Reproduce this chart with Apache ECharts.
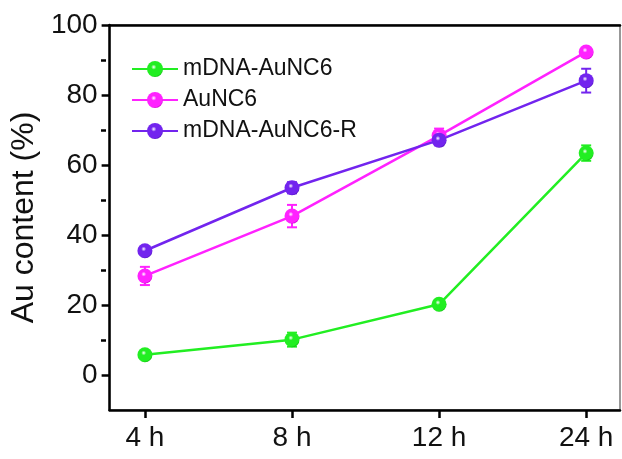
<!DOCTYPE html>
<html>
<head>
<meta charset="utf-8">
<script src="https://cdn.jsdelivr.net/npm/echarts@6/dist/echarts.min.js"></script>
<style>html,body{margin:0;padding:0;background:#fff}#c{width:622px;height:459px}</style>
</head>
<body>
<div id="c"></div>
<script>
var categories = ['4 h', '8 h', '12 h', '24 h'];
var seriesNames = ['mDNA-AuNC6', 'AuNC6', 'mDNA-AuNC6-R'];
var greenValues = [5.8, 10.1, 20.2, 63.4];
var greenErrors = [1.0, 2.0, 1.2, 2.2];
var magentaValues = [28.3, 45.4, 68.4, 92.3];
var magentaErrors = [2.6, 3.2, 2.0, 1.0];
var purpleValues = [35.5, 53.5, 67.1, 84.1];
var purpleErrors = [1.0, 1.6, 1.5, 3.4];
var yMajorTicks = [0, 20, 40, 60, 80, 100];
var yMinorTicks = [10, 30, 50, 70, 90];

var colors = ['#22ee22', '#ff22ff', '#7224ee'];
var dark = ['#0bb80b', '#c800c8', '#4a10b8'];
var values = [greenValues, magentaValues, purpleValues];
var errors = [greenErrors, magentaErrors, purpleErrors];

function sphere(i) {
  return {
    type: 'radial', x: 0.42, y: 0.38, r: 0.65,
    colorStops: [
      {offset: 0, color: '#ffffff'},
      {offset: 0.25, color: colors[i]},
      {offset: 0.85, color: colors[i]},
      {offset: 1, color: dark[i]}
    ]
  };
}

var series = [];
values.forEach(function (vals, i) {
  series.push({
    name: seriesNames[i] + ' err',
    type: 'custom',
    xAxisIndex: 0, yAxisIndex: 0,
    z: 2,
    data: vals.map(function (v, k) { return [k, v - errors[i][k], v + errors[i][k]]; }),
    renderItem: function (params, api) {
      var x = api.value(0);
      var lo = api.coord([x, api.value(1)]);
      var hi = api.coord([x, api.value(2)]);
      var st = {stroke: colors[i], lineWidth: 2};
      var hw = 5;
      return {
        type: 'group',
        children: [
          {type: 'line', shape: {x1: lo[0], y1: lo[1], x2: hi[0], y2: hi[1]}, style: st},
          {type: 'line', shape: {x1: lo[0] - hw, y1: lo[1], x2: lo[0] + hw, y2: lo[1]}, style: st},
          {type: 'line', shape: {x1: hi[0] - hw, y1: hi[1], x2: hi[0] + hw, y2: hi[1]}, style: st}
        ]
      };
    }
  });
});
values.forEach(function (vals, i) {
  series.push({
    name: seriesNames[i],
    type: 'line',
    xAxisIndex: 0, yAxisIndex: 0,
    z: 3,
    data: vals.map(function (v, k) { return [k, v]; }),
    symbol: 'circle',
    symbolSize: 15,
    lineStyle: {color: colors[i], width: 2.5},
    itemStyle: {color: sphere(i), borderWidth: 0},
    emphasis: {disabled: true}
  });
});

var GRID_LEFT = 106, GRID_RIGHT = 2, W = 622;
var chart = echarts.init(document.getElementById('c'), null, {renderer: 'canvas'});
chart.setOption({
  animation: false,
  backgroundColor: '#fff',
  grid: {left: GRID_LEFT, right: GRID_RIGHT, top: 25, bottom: 49, show: true,
    borderColor: '#777', borderWidth: 1.5, backgroundColor: 'transparent'},
  legend: {
    data: seriesNames.map(function (n, i) { return {name: n, itemStyle: {color: sphere(i)}}; }),
    orient: 'vertical',
    left: 126, top: 52,
    itemWidth: 46, itemHeight: 20, itemGap: 7,
    textStyle: {fontFamily: 'Liberation Sans', fontSize: 23, color: '#111', lineHeight: 24}
  },
  xAxis: [{
    type: 'value', min: -0.24, max: 3.23,
    axisLine: {show: true, onZero: false, lineStyle: {color: '#000', width: 2.5}},
    axisTick: {show: true, inside: false, length: 8, lineStyle: {color: '#000', width: 2.5}, customValues: [0, 1, 2, 3]},
    axisLabel: {customValues: [0, 1, 2, 3], formatter: function (v) { return categories[Math.round(v)]; },
      fontFamily: 'Liberation Sans', fontSize: 28, color: '#111', margin: 14},
    splitLine: {show: false}
  }, {
    type: 'value', position: 'top', min: -0.24, max: 3.23,
    axisLine: {show: true, onZero: false, lineStyle: {color: '#000', width: 2.5}},
    axisTick: {show: false}, axisLabel: {show: false}, splitLine: {show: false}
  }],
  yAxis: [{
    type: 'value', min: -10, max: 100, position: 'left',
    name: 'Au content (%)', nameLocation: 'middle', nameGap: 58,
    nameTextStyle: {fontFamily: 'Liberation Sans', fontSize: 32, color: '#111'},
    axisLine: {show: true, onZero: false, lineStyle: {color: '#000', width: 2.5}},
    axisTick: {show: true, length: 8, lineStyle: {color: '#000', width: 2.5}, customValues: yMajorTicks},
    axisLabel: {customValues: yMajorTicks, fontFamily: 'Liberation Sans', fontSize: 28, color: '#111', margin: 12},
    splitLine: {show: false}
  }, {
    type: 'value', min: -10, max: 100, position: 'right',
    offset: -(W - GRID_LEFT - GRID_RIGHT),
    axisLine: {show: false, onZero: false},
    axisTick: {show: true, inside: true, length: 5, lineStyle: {color: '#000', width: 2.5}, customValues: yMinorTicks},
    axisLabel: {show: false}, splitLine: {show: false}
  }],
  series: series
});
</script>
</body>
</html>
